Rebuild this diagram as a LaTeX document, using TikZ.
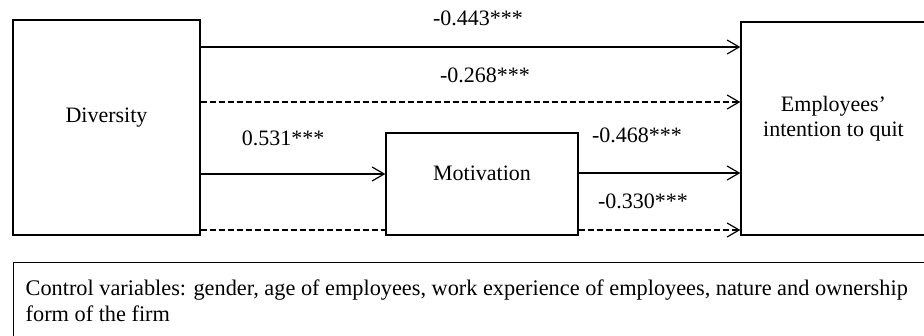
\documentclass[tikz,border=0pt]{standalone}
\usepackage{fontspec}
\setmainfont{Liberation Serif}
\usetikzlibrary{arrows.meta,positioning}
\tikzset{vbox/.style={draw, line width=0.7pt, fill=white, inner sep=0pt}}
\tikzset{arr/.style={draw, line width=0.6pt, -{Straight Barb[length=6pt, width=7pt, line width=0.6pt]}}}
\tikzset{dashline/.style={dash pattern=on 3pt off 1.5pt}}
\tikzset{coef/.style={inner sep=0pt}}

\begin{document}
\begin{tikzpicture}[x=0.5pt, y=-0.5pt, font=\fontsize{11}{12.5}\selectfont]
			\clip (0,0) rectangle (924,336);
			
			\node[vbox, minimum width=93.5pt, minimum height=107.5pt, label={[yshift=5pt]center:Diversity}] (div) at (106.5,127.5){};
			\node[vbox, minimum width=92.5pt, minimum height=106.5pt, label={[yshift=5pt, align=center]center:Employees'\\intention to quit}] (quit) at (833.5,128.5){};
			
			\draw[arr] (div.east |- 0,47) -- (quit.west |- 0,47);
			\draw[arr, dashline] (div.east |- 0,102) -- (quit.west |- 0,102);
			
			\node[vbox, minimum width=96pt, minimum height=51pt, label={[yshift=5.5pt]center:Motivation}] (mot) at (482,184){};
			
			\draw[arr] (div.east |- 0,174) -- (mot.west |- 0,174);
			\draw[arr] (mot.east |- 0,173) -- (quit.west |- 0,173);
			\draw[line width=0.6pt, dashline] (div.east |- 0,230) -- (mot.west |- 0,230);
			\draw[arr, dashline] (mot.east |- 0,230) -- (quit.west |- 0,230);
			
			\node[coef] (c1) at (478,18){-0.443***};
			\node[coef] (c2) at (485,75){-0.268***};
			\node[coef] (c3) at (283,138){0.531***};
			\node[coef] (c4) at (637,135){-0.468***};
			\node[coef] (c5) at (643,201){-0.330***};
			
			\node[vbox, anchor=north west, text width=458pt, align=flush left, inner xsep=6pt, inner ysep=8.5pt, text depth=30pt, font=\fontsize{11.15}{13}\selectfont] (ctrl) at (13,262){Control variables: gender, age of employees, work experience of employees, nature and ownership\\form of the firm};
		\end{tikzpicture}
\end{document}
